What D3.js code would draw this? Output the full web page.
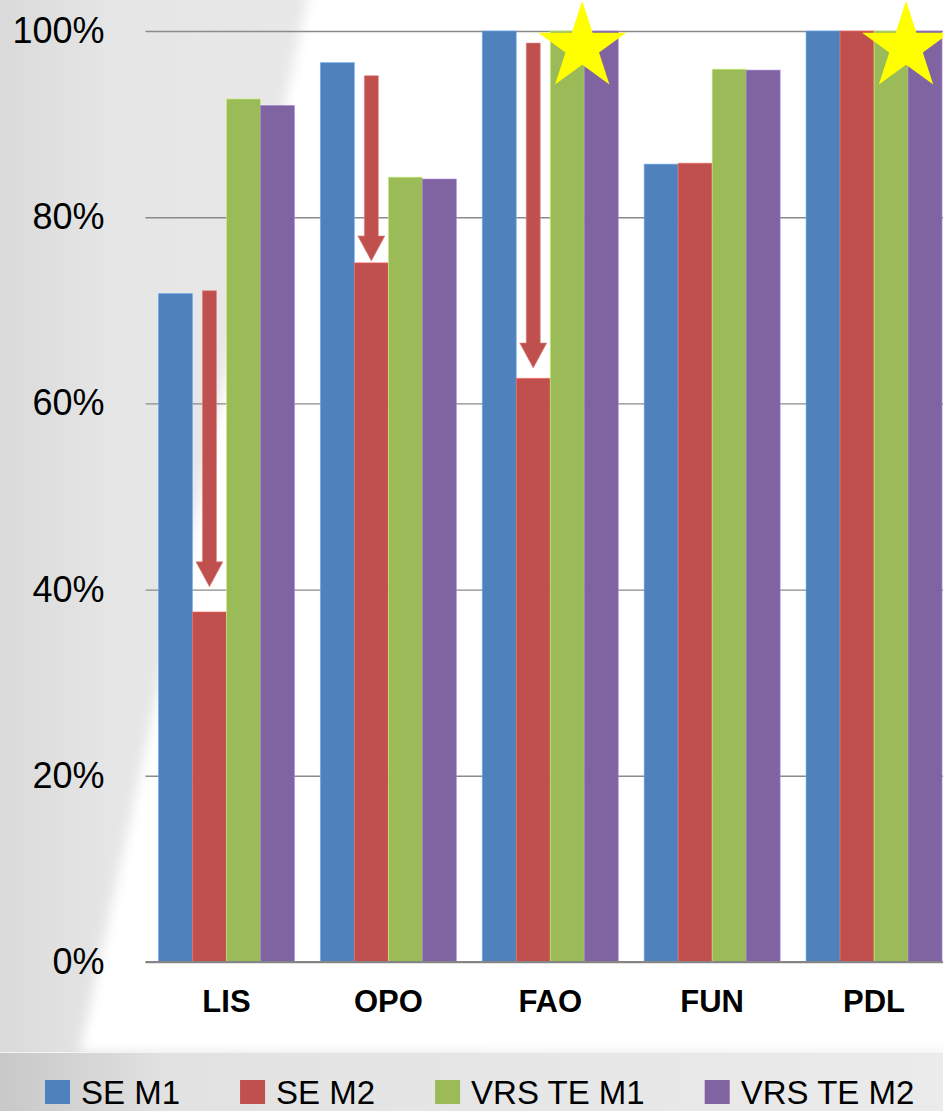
<!DOCTYPE html>
<html>
<head>
<meta charset="utf-8">
<script src="https://cdn.jsdelivr.net/npm/d3@7"></script>
<style>
  html, body { margin: 0; padding: 0; background: #fff; }
  svg { display: block; }
</style>
</head>
<body>
<div id="chart"></div>
<script>
// data
var categories = ["LIS", "OPO", "FAO", "FUN", "PDL"];
var seriesNames = ["SE M1", "SE M2", "VRS TE M1", "VRS TE M2"];
var seriesColors = ["#4F81BD", "#C0504D", "#9BBB59", "#8064A2"];
var seM1 = [71.8, 96.6, 100, 85.7, 100];
var seM2 = [37.6, 75.1, 62.7, 85.8, 100];
var vrsM1 = [92.7, 84.3, 100, 95.9, 100];
var vrsM2 = [92.0, 84.1, 100, 95.8, 100];
var yTicks = [0, 20, 40, 60, 80, 100];
// red "drop" arrows drawn over the SE M2 column
var arrowCats = ["LIS", "OPO", "FAO"];
var arrowFrom = [72.1, 95.2, 98.7];
var arrowTo = [40.3, 75.3, 63.8];
// stars sit between the two VRS TE bars
var starCats = ["FAO", "PDL"];

var W = 943, H = 1111;
var margin = { top: 31, left: 145.5, bottom: 149 };

var svg = d3.select("#chart")
    .append("svg")
    .attr("width", W)
    .attr("height", H);

var defs = svg.append("defs");

var bg = defs.append("linearGradient").attr("id", "bgGrad")
    .attr("x1", "0").attr("y1", "0").attr("x2", "1").attr("y2", "0");
bg.append("stop").attr("offset", "0%").attr("stop-color", "#dadada");
bg.append("stop").attr("offset", "12%").attr("stop-color", "#e6e6e6");
bg.append("stop").attr("offset", "100%").attr("stop-color", "#ededed");

var band = defs.append("linearGradient").attr("id", "bandGrad")
    .attr("x1", "0").attr("y1", "0").attr("x2", "1").attr("y2", "0");
band.append("stop").attr("offset", "0%").attr("stop-color", "#c8c8c8");
band.append("stop").attr("offset", "18%").attr("stop-color", "#e2e2e2");
band.append("stop").attr("offset", "100%").attr("stop-color", "#ebebeb");

defs.append("filter").attr("id", "soft")
    .attr("x", "-20%").attr("y", "-20%").attr("width", "140%").attr("height", "140%")
    .append("feGaussianBlur").attr("stdDeviation", 6);

// slide background
svg.append("rect")
    .attr("width", W).attr("height", H)
    .attr("fill", "url(#bgGrad)");

svg.append("polygon")
    .attr("points", "320,-60 1020,-60 1020,1052 80,1052")
    .attr("fill", "#ffffff")
    .attr("filter", "url(#soft)");

svg.append("rect")
    .attr("y", 1052).attr("width", W).attr("height", H - 1052)
    .attr("fill", "url(#bandGrad)");
svg.append("line")
    .attr("x1", 0).attr("x2", W).attr("y1", 1052.5).attr("y2", 1052.5)
    .attr("stroke", "#f4f4f4").attr("stroke-width", 1);

var y = d3.scaleLinear()
    .domain([0, 100])
    .range([H - margin.bottom, margin.top]);

var x = d3.scaleBand()
    .domain(categories)
    .range([margin.left, 955])
    .paddingInner(0.16)
    .paddingOuter(0.08);

var xs = d3.scaleBand()
    .domain(seriesNames)
    .range([0, x.bandwidth()]);

// gridlines + y labels
var yAxis = svg.append("g")
    .attr("transform", "translate(" + margin.left + ",0)")
    .call(d3.axisLeft(y)
        .tickValues(yTicks)
        .tickFormat(function(d) { return d + "%"; })
        .tickSize(-(W - margin.left))
        .tickSizeOuter(0)
        .tickPadding(41));
yAxis.select(".domain").remove();
yAxis.selectAll(".tick line")
    .attr("stroke", "#8a8a8a")
    .attr("stroke-width", 1.4);
yAxis.selectAll(".tick text")
    .style("font-family", "'Liberation Sans', Arial, sans-serif")
    .style("font-size", "36px")
    .attr("fill", "#000");

var rows = seriesNames.map(function(s, i) {
    var vals = [seM1, seM2, vrsM1, vrsM2][i];
    return categories.map(function(c, j) {
        return { cat: c, series: s, value: vals[j], color: seriesColors[i] };
    });
});

svg.append("g")
    .selectAll("g")
    .data(rows)
    .enter()
    .append("g")
    .selectAll("rect")
    .data(function(d) { return d; })
    .enter()
    .append("rect")
    .attr("x", function(d) { return x(d.cat) + xs(d.series); })
    .attr("y", function(d) { return y(d.value); })
    .attr("width", xs.bandwidth())
    .attr("height", function(d) { return y(0) - y(d.value); })
    .attr("fill", function(d) { return d.color; })
    .attr("stroke", function(d) { return d3.color(d.color).brighter(0.8); })
    .attr("stroke-width", 0.8)
    .attr("stroke-opacity", 0.7);

// baseline
svg.append("line")
    .attr("x1", margin.left).attr("x2", W)
    .attr("y1", y(0)).attr("y2", y(0))
    .attr("stroke", "#858585")
    .attr("stroke-width", 2);

// x labels
svg.append("g")
    .selectAll("text")
    .data(categories)
    .enter()
    .append("text")
    .attr("x", function(d) { return x(d) + x.bandwidth() / 2; })
    .attr("y", 1012)
    .attr("text-anchor", "middle")
    .style("font-family", "'Liberation Sans', Arial, sans-serif")
    .style("font-weight", "bold")
    .style("font-size", "31px")
    .text(function(d) { return d; });

// arrows
function arrowPath(cx, y0, y1) {
    var sw = 7, hw = 13.5, hl = 25;
    var yh = y1 - hl;
    return "M" + (cx - sw) + "," + y0 +
        "L" + (cx + sw) + "," + y0 +
        "L" + (cx + sw) + "," + yh +
        "L" + (cx + hw) + "," + yh +
        "L" + cx + "," + y1 +
        "L" + (cx - hw) + "," + yh +
        "L" + (cx - sw) + "," + yh + "Z";
}

svg.append("g")
    .selectAll("path")
    .data(arrowCats)
    .enter()
    .append("path")
    .attr("d", function(d, i) {
        var cx = x(d) + xs("SE M2") + xs.bandwidth() / 2;
        return arrowPath(cx, y(arrowFrom[i]), y(arrowTo[i]));
    })
    .attr("fill", "#C0504D")
    .attr("stroke", "#d98784")
    .attr("stroke-width", 0.6);

// stars
var starShape = d3.symbol().type(d3.symbolStar).size(2400);
svg.append("g")
    .selectAll("path")
    .data(starCats)
    .enter()
    .append("path")
    .attr("d", starShape)
    .attr("transform", function(d) {
        var cx = x(d) + xs("VRS TE M2") - 2;
        return "translate(" + cx + "," + (y(100) + 16) + ")";
    })
    .attr("fill", "#FFFF00");

// legend
var legend = svg.append("g")
    .attr("transform", "translate(45,0)");
var lx = 0;
seriesNames.forEach(function(name, i) {
    var item = legend.append("g").attr("transform", "translate(" + lx + ",0)");
    item.append("rect")
        .attr("x", 0).attr("y", 1080)
        .attr("width", 25).attr("height", 24)
        .attr("fill", seriesColors[i]);
    var t = item.append("text")
        .attr("x", 36).attr("y", 1104)
        .style("font-family", "'Liberation Sans', Arial, sans-serif")
        .style("font-size", "33px")
        .text(name);
    lx += 36 + t.node().getComputedTextLength() + 60;
});
</script>
</body>
</html>
